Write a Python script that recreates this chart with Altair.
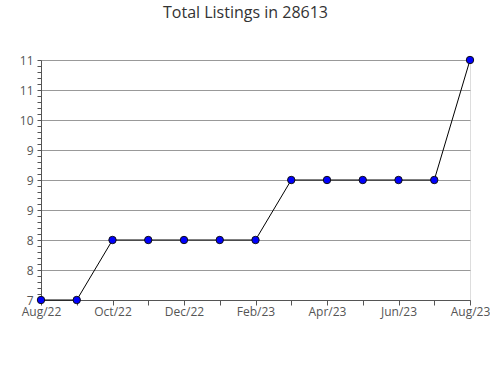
import altair as alt
import pandas as pd

months = ["Aug/22", "Sep/22", "Oct/22", "Nov/22", "Dec/22", "Jan/23", "Feb/23",
          "Mar/23", "Apr/23", "May/23", "Jun/23", "Jul/23", "Aug/23"]
listings = [7, 7, 8, 8, 8, 8, 8, 9, 9, 9, 9, 9, 11]
shown_months = ["Aug/22", "Oct/22", "Dec/22", "Feb/23", "Apr/23", "Jun/23", "Aug/23"]
y_tick_values = [round(7 + 0.1 * i, 1) for i in range(41)]
y_major_labels = {"70": "7", "75": "8", "80": "8", "85": "9", "90": "9",
                  "95": "9", "100": "10", "105": "11", "110": "11"}

df = pd.DataFrame({"month": months, "value": listings})

label_map = "{" + ",".join(f"'{k}':'{v}'" for k, v in y_major_labels.items()) + "}"
key = "'' + round(datum.value*10)"
is_major = "round(datum.value*10) % 5 == 0"
shown = "[" + ",".join(f"'{m}'" for m in shown_months) + "]"

base = alt.Chart(df).encode(
    x=alt.X("month:O", sort=months, title=None,
            scale=alt.Scale(type="point", padding=0),
            axis=alt.Axis(labelAngle=0,
                          labelExpr=f"indexof({shown}, datum.value) >= 0 ? datum.value : ''",
                          labelOverlap=False, tickSize=5, tickColor="#555",
                          domainColor="#555", labelColor="#555", labelFontSize=12,
                          labelFont="Open Sans", labelPadding=1, grid=False)),
    y=alt.Y("value:Q", title=None,
            scale=alt.Scale(domain=[7, 11], nice=False, zero=False),
            axis=alt.Axis(values=y_tick_values,
                          labelExpr=f"({is_major}) ? {label_map}[{key}] : ''",
                          labelOverlap=False, tickSize=4, tickColor="#555",
                          domainColor="#555", labelColor="#555", labelFontSize=12,
                          labelFont="Open Sans", labelPadding=4,
                          grid=True, gridColor="#999",
                          gridOpacity={"condition": {"test": is_major, "value": 1}, "value": 0})),
)

line = base.mark_line(color="black", strokeWidth=1)
pts = base.mark_point(shape="circle", filled=True, fill="#0000ff",
                      stroke="#111", strokeWidth=1, size=55, opacity=1)

chart = (line + pts).properties(
    width=429, height=240,
    title=alt.TitleParams("Total Listings in 28613", font="Open Sans", fontSize=16,
                          fontWeight="normal", color="#333", offset=33, dx=-10),
    padding={"left": 19, "top": 5, "right": 0, "bottom": 5},
).configure_view(stroke=None).configure(background="white")

chart.save("out.html", embed_options={"renderer": "svg", "actions": False})
